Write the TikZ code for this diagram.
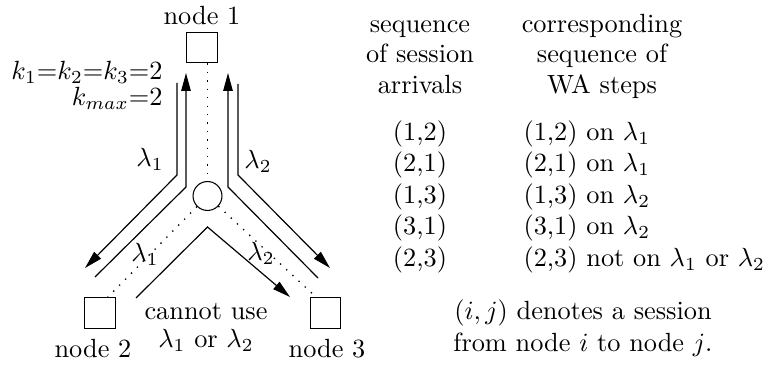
\documentclass[tikz,border=0pt]{standalone}
\usetikzlibrary{arrows.meta,calc}
\begin{document}
\begin{tikzpicture}[x=0.38pt,y=-0.38pt,
  box/.style={draw,line width=0.5pt,minimum size=11.6pt,inner sep=0pt},
  hubc/.style={draw,circle,line width=0.4pt,minimum size=11pt,inner sep=0pt},
  chan/.style={line width=0.45pt,-{Triangle[length=6.8pt,width=3.6pt]}},
  dotl/.style={line width=0.5pt,dash pattern=on 0.5pt off 2.7pt},
  txt/.style={anchor=base,inner sep=0pt}]
\useasboundingbox (0,0) rectangle (765,367);
% nodes
\node[box] (n1) at (202,47.5) {};
\node[box] (n2) at (100,313) {};
\node[box] (n3) at (325.5,313) {};
\node[hubc] (hub) at (207.5,196) {};
\node[txt] (t1) at (202,25) {node 1};
\node[txt] (t2) at (93,357) {node 2};
\node[txt] (t3) at (327,357) {node 3};
% dotted physical links
\coordinate (d2) at (107,298);
\coordinate (d3) at (317,298);
\draw[dotl] (n1.south -| hub) -- (hub.north);
\draw[dotl] (hub.225) -- (d2);
\draw[dotl] (hub.-43) -- (d3);
% channel paths
\coordinate (a1) at (177,83);  \coordinate (a2) at (177,175); \coordinate (a3) at (85,268);
\coordinate (b1) at (95,277);  \coordinate (b2) at (186,187); \coordinate (b3) at (186,73);
\coordinate (c1) at (318,278); \coordinate (c2) at (228,187); \coordinate (c3) at (228,73);
\coordinate (e1) at (238,84);  \coordinate (e2) at (238,175); \coordinate (e3) at (330,268);
\coordinate (f1) at (136,298); \coordinate (f2) at (207.5,227); \coordinate (f3) at (290,297);
\draw[chan] (a1) -- (a2) -- (a3);
\draw[chan] (b1) -- (b2) -- (b3);
\draw[chan] (c1) -- (c2) -- (c3);
\draw[chan] (e1) -- (e2) -- (e3);
\draw[chan] (f1) -- (f2) -- (f3);
% labels
\node[txt] (L1) at (150,167) {$\lambda_1$};
\node[txt] (L2) at (258,169) {$\lambda_2$};
\node[txt] (L3) at (145,262) {$\lambda_1$};
\node[txt] (L4) at (261,261) {$\lambda_2$};
\node[anchor=base east,inner sep=0pt] (k1) at (163,80) {$k_1{=}k_2{=}k_3{=}2$};
\node[anchor=base east,inner sep=0pt] (k2) at (163,106) {$k_{max}{=}2$};
\node[txt] (cu1) at (206,320) {cannot use};
\node[txt] (cu2) at (206,348) {$\lambda_1$ or $\lambda_2$};
% table header
\node[txt] (h1) at (420,32.7) {sequence};
\node[txt] (h2) at (420,62.7) {of session};
\node[txt] (h3) at (420,93.7) {arrivals};
\node[txt] (g1) at (602,32.7) {corresponding};
\node[txt] (g2) at (602,62.7) {sequence of};
\node[txt] (g3) at (602,93.7) {WA steps};
% rows
\node[txt] (r1) at (420,140.6) {(1,2)};
\node[txt] (r2) at (420,172) {(2,1)};
\node[txt] (r3) at (420,203.5) {(1,3)};
\node[txt] (r4) at (420,235) {(3,1)};
\node[txt] (r5) at (420,266.5) {(2,3)};
\node[txt,anchor=base west] (s1) at (523,140.6) {(1,2) on $\lambda_1$};
\node[txt,anchor=base west] (s2) at (523,172) {(2,1) on $\lambda_1$};
\node[txt,anchor=base west] (s3) at (523,203.5) {(1,3) on $\lambda_2$};
\node[txt,anchor=base west] (s4) at (523,235) {(3,1) on $\lambda_2$};
\node[txt,anchor=base west] (s5) at (523,266.5) {(2,3) not on $\lambda_1$ or $\lambda_2$};
\node[txt] (n1a) at (583,319.6) {$(i,j)$ denotes a session};
\node[txt] (n1b) at (583,352) {from node $i$ to node $j$.};
\end{tikzpicture}
\end{document}
